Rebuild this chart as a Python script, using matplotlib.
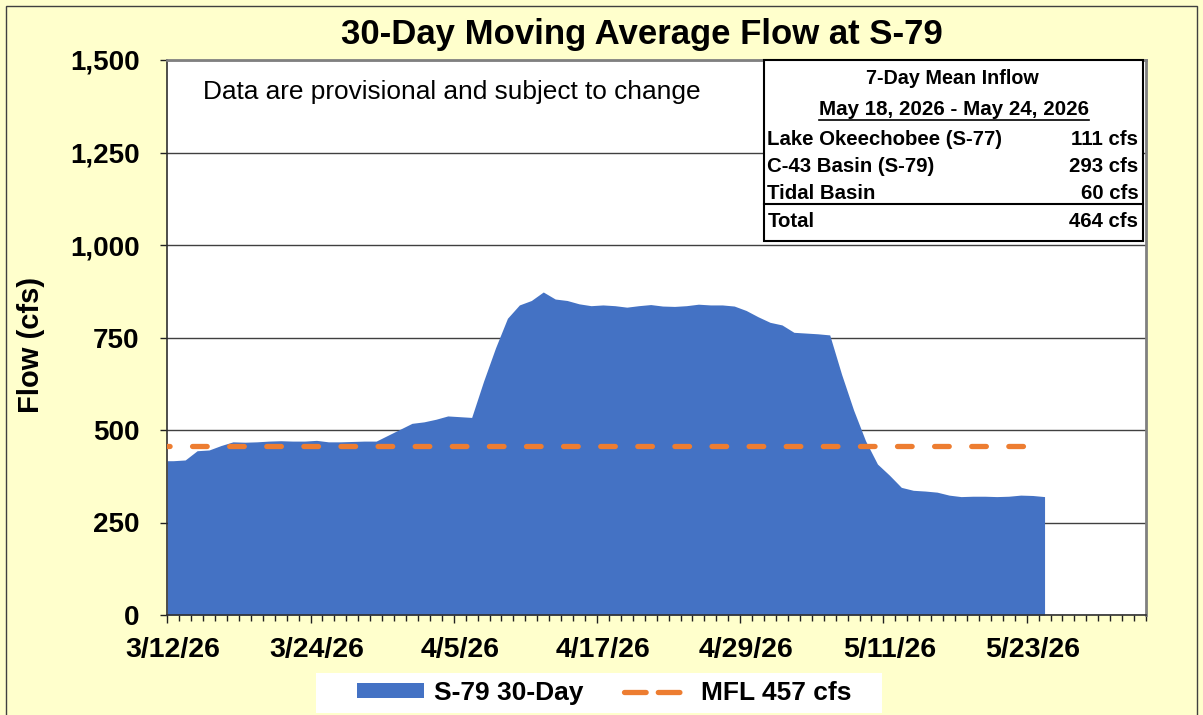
import numpy as np
import pandas as pd
import matplotlib
matplotlib.use('Agg')
import matplotlib.pyplot as plt
import matplotlib.transforms as mtransforms
from matplotlib.patches import Rectangle, Patch
from matplotlib.lines import Line2D
from matplotlib.ticker import FuncFormatter, MultipleLocator

plt.rcParams['font.family'] = ['Liberation Sans', 'DejaVu Sans']

# datos diarios (promedio movil de 30 dias)
start = pd.Timestamp('2026-03-12')
dates = pd.date_range(start, '2026-05-24', freq='D')
flow = [417, 419, 444, 446, 458, 468, 467, 468, 470, 471, 470, 470, 472, 468, 468, 469,
        470, 470, 486, 502, 518, 522, 529, 538, 536, 534,
        632, 722, 802, 838, 850, 873, 854, 850, 841, 836, 838, 836, 832, 836, 839, 835,
        834, 836, 840, 838, 838, 835, 823, 806, 791, 784, 764, 762, 760, 757,
        650, 554, 471, 408, 378, 345, 337, 335, 332, 324, 320, 321, 321, 320, 321, 324,
        323, 320]
mfl = 457
axis_days = 82
tick_labels = ['3/12/26', '3/24/26', '4/5/26', '4/17/26', '4/29/26', '5/11/26', '5/23/26']

inflow_period = 'May 18, 2026 - May 24, 2026'
inflow_names = ['Lake Okeechobee (S-77)', 'C-43 Basin (S-79)', 'Tidal Basin']
inflow_vals = [111, 293, 60]
inflow_total = 464

BLUE = '#4472C4'
ORANGE = '#ED7D31'
W, H = 1203, 715

fig = plt.figure(figsize=(W / 100, H / 100), dpi=100, facecolor='#FFFFCC')
ax = fig.add_axes([167.3 / W, 1 - 615 / H, (1146 - 167.3) / W, 555 / H])


def axx(px):
    return (px - 167.3) / 978.7


def axy(py):
    return (615 - py) / 555


# cada dia ocupa una casilla; el punto va en el centro
x = (dates - start).days.to_numpy() + 0.5
ax.fill_between(np.r_[0, x], np.r_[flow[0], flow], color=BLUE, lw=0, zorder=2)
ax.plot(np.r_[0, x], np.full(len(x) + 1, mfl), color=ORANGE, lw=3.8,
        ls=(2.28, (2.77, 4.26)), dash_capstyle='round', zorder=3)

ax.set_xlim(0, axis_days)
ax.set_ylim(0, 1500)
ax.set_xticks(np.arange(0, 12 * len(tick_labels), 12))
ax.set_xticklabels(tick_labels)
ax.xaxis.set_minor_locator(MultipleLocator(1))
ax.set_yticks(np.arange(0, 1501, 250))
ax.yaxis.set_major_formatter(FuncFormatter(lambda v, p: f'{v:,.0f}'))
ax.tick_params(axis='x', which='major', length=5.8, width=1, pad=10, labelsize=20.5,
               color='#202020')
ax.tick_params(axis='x', which='minor', length=4, width=1, color='#202020')
ax.tick_params(axis='y', length=5, width=1, pad=15, labelsize=20, color='#202020')
for lbl in ax.get_xticklabels() + ax.get_yticklabels():
    lbl.set_fontweight('bold')
# etiquetas centradas en la casilla del dia
half_day = mtransforms.ScaledTranslation(0.5 * (978.7 / axis_days) / 100, 0, fig.dpi_scale_trans)
for lbl in ax.get_xticklabels():
    lbl.set_transform(lbl.get_transform() + half_day)

ax.yaxis.grid(True, color='#404040', lw=1)
ax.set_axisbelow(True)
for s in ['left', 'bottom']:
    ax.spines[s].set_color('#303030')
    ax.spines[s].set_linewidth(1.2)
for s in ['top', 'right']:
    ax.spines[s].set_color('#808080')
    ax.spines[s].set_linewidth(2)

ax.set_ylabel('Flow (cfs)', fontsize=21, fontweight='bold')
ax.yaxis.set_label_coords(axx(31), axy(345))
ax.yaxis.label.set_va('center')

fig.text(642 / W, 1 - 43.6 / H, '30-Day Moving Average Flow at S-79', ha='center',
         va='baseline', fontsize=25, fontweight='bold')
ax.text(axx(203), axy(99.5), 'Data are provisional and subject to change',
        transform=ax.transAxes, fontsize=18.9, va='baseline', ha='left')

# tabla de caudal medio de 7 dias
left, right = axx(764), axx(1143)
ax.add_patch(Rectangle((left, axy(241)), right - left, 1 - axy(241), transform=ax.transAxes,
                       facecolor='white', edgecolor='black', lw=1.5, zorder=4, clip_on=False))
ax.plot([left, right], [axy(204.3)] * 2, transform=ax.transAxes, color='black', lw=1.5,
        zorder=5, clip_on=False)
ax.text(axx(952), axy(84.3), '7-Day Mean Inflow', transform=ax.transAxes, ha='center',
        va='baseline', fontsize=14.2, fontweight='bold', zorder=6)
t_period = ax.text(axx(954), axy(115), inflow_period, transform=ax.transAxes, ha='center',
                   va='baseline', fontsize=14.8, fontweight='bold', zorder=6)
row_y = [145, 171.7, 199]
for name, val, py in zip(inflow_names, inflow_vals, row_y):
    ax.text(axx(767.3), axy(py), name, transform=ax.transAxes, ha='left', va='baseline',
            fontsize=14.7, fontweight='bold', zorder=6)
    ax.text(axx(1138.3), axy(py), f'{val} cfs', transform=ax.transAxes, ha='right',
            va='baseline', fontsize=14.7, fontweight='bold', zorder=6)
ax.text(axx(767.3), axy(226.7), 'Total', transform=ax.transAxes, ha='left', va='baseline',
        fontsize=14.7, fontweight='bold', zorder=6)
ax.text(axx(1138.3), axy(226.7), f'{inflow_total} cfs', transform=ax.transAxes, ha='right',
        va='baseline', fontsize=14.7, fontweight='bold', zorder=6)

fig.canvas.draw()
bb = t_period.get_window_extent(fig.canvas.get_renderer())
x0, x1 = ax.transAxes.inverted().transform([[bb.x0, 0], [bb.x1, 0]])[:, 0]
ax.plot([x0, x1], [axy(120)] * 2, transform=ax.transAxes, color='black', lw=1.2,
        zorder=6, clip_on=False)

# leyenda
fig.patches.append(Rectangle((316 / W, 1 - 713 / H), 566 / W, 40 / H, transform=fig.transFigure,
                             facecolor='white', edgecolor='none', zorder=0.5))
handles = [Patch(facecolor=BLUE, edgecolor='none', label='S-79 30-Day'),
           Line2D([], [], color=ORANGE, lw=3.8, ls=(0, (4.1, 2.3)), dash_capstyle='round',
                  label=f'MFL {mfl} cfs')]
fig.legend(handles=handles, loc='center', bbox_to_anchor=(604.5 / W, 1 - 693 / H), ncol=2,
           frameon=False, prop={'size': 19, 'weight': 'bold'}, handlelength=2.54,
           handleheight=0.49, handletextpad=0.38, columnspacing=1.55, borderpad=0)

# marco de la figura
fig.patches.append(Rectangle((6 / W, -0.02), 1191 / W, 709 / H + 0.02, transform=fig.transFigure,
                             fill=False, edgecolor='#404040', lw=1))

fig.savefig('out.png', dpi=100, facecolor=fig.get_facecolor())
